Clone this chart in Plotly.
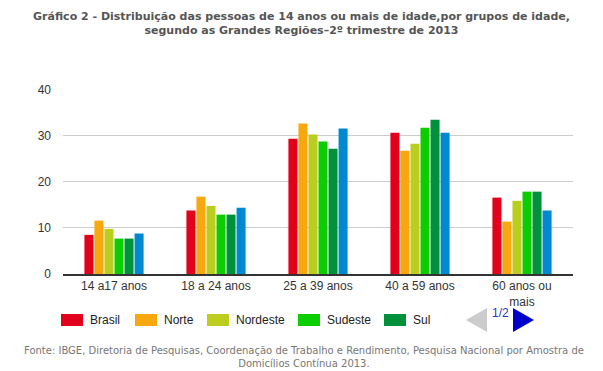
import plotly.graph_objects as go

categories = ["14 a17 anos", "18 a 24 anos", "25 a 39 anos", "40 a 59 anos", "60 anos ou<br>mais"]
brasil = [8.5, 13.8, 29.4, 30.7, 16.6]
norte = [11.6, 16.8, 32.7, 26.8, 11.4]
nordeste = [9.8, 14.8, 30.3, 28.3, 15.9]
sudeste = [7.7, 12.9, 28.8, 31.8, 17.9]
sul = [7.7, 12.9, 27.2, 33.5, 17.9]
centro_oeste = [8.8, 14.4, 31.6, 30.7, 13.8]
y_ticks = [0, 10, 20, 30, 40]

series = [
    ("Brasil", brasil, "#E2001A"),
    ("Norte", norte, "#F7A80E"),
    ("Nordeste", nordeste, "#BBCE1E"),
    ("Sudeste", sudeste, "#0CCD00"),
    ("Sul", sul, "#00923A"),
    ("Centro-Oeste", centro_oeste, "#0088D0"),
]

W, H = 603, 371
L, R, T, B = 63, 30, 89, 97
pw, ph = W - L - R, H - T - B

def px(x):
    return (x - L) / pw

def py(y):
    return (H - B - y) / ph

fig = go.Figure()
for name, vals, col in series:
    fig.add_trace(go.Bar(x=categories, y=vals, name=name, marker=dict(color=col, line=dict(width=0)),
                         showlegend=False))

shapes = []
annotations = []
legend_items = [("Brasil", 61), ("Norte", 135), ("Nordeste", 207), ("Sudeste", 298), ("Sul", 384)]
colors = {n: c for n, _, c in series}
for name, x0 in legend_items:
    shapes.append(dict(type="rect", xref="paper", yref="paper", x0=px(x0), x1=px(x0 + 22),
                       y0=py(326), y1=py(314), fillcolor=colors[name], line=dict(width=0)))
    annotations.append(dict(xref="paper", yref="paper", x=px(x0 + 27), y=py(320), text=name,
                            showarrow=False, xanchor="left", yanchor="middle",
                            font=dict(family="Liberation Sans, Arial", size=12, color="#222")))

# pager arrows
shapes.append(dict(type="path", xref="paper", yref="paper",
                   path=f"M {px(466)} {py(320)} L {px(487)} {py(308)} L {px(487)} {py(332)} Z",
                   fillcolor="#CCCCCC", line=dict(width=0)))
shapes.append(dict(type="path", xref="paper", yref="paper",
                   path=f"M {px(534)} {py(320)} L {px(513)} {py(308)} L {px(513)} {py(332)} Z",
                   fillcolor="#0000CC", line=dict(width=0)))
annotations.append(dict(xref="paper", yref="paper", x=px(500), y=py(313), text="1/2", showarrow=False,
                        xanchor="center", yanchor="middle",
                        font=dict(family="Liberation Sans, Arial", size=12, color="#3333CC")))

annotations.append(dict(xref="paper", yref="paper", x=px(W / 2 + 2), y=py(357), xanchor="center", yanchor="middle",
                        text="Fonte: IBGE, Diretoria de Pesquisas, Coordenação de Trabalho e Rendimento, Pesquisa Nacional por Amostra de<br>Domicílios Contínua 2013.",
                        showarrow=False, align="center",
                        font=dict(family="DejaVu Sans, Verdana", size=10, color="#777")))

fig.update_layout(
    width=W, height=H,
    margin=dict(l=L, r=R, t=T, b=B),
    paper_bgcolor="white", plot_bgcolor="white",
    barmode="group", bargap=0.41, bargroupgap=0.1,
    title=dict(text="<b>Gráfico 2 - Distribuição das pessoas de 14 anos ou mais de idade,por grupos de idade,<br>segundo as Grandes Regiões–2º trimestre de 2013</b>",
               x=px(W / 2), xref="paper", xanchor="center", y=1 - 20 / H, yanchor="middle",
               font=dict(family="DejaVu Sans, Verdana", size=11, color="#555")),
    shapes=shapes, annotations=annotations,
    xaxis=dict(showgrid=False, showline=True, linecolor="#333", linewidth=2, ticks="", automargin=False,
               tickfont=dict(family="Liberation Sans, Arial", size=12, color="#333")),
    yaxis=dict(range=[0, 40.2], tickvals=y_ticks, showgrid=True, gridcolor="#CCCCCC", gridwidth=1,
               zeroline=False, showline=False, ticks="", ticklabelstandoff=11, automargin=False,
               tickfont=dict(family="Liberation Sans, Arial", size=12, color="#333")),
)

fig.write_html("out.html", config={"displayModeBar": False},
               post_script="document.body.style.margin='0';document.body.style.overflow='hidden';")
